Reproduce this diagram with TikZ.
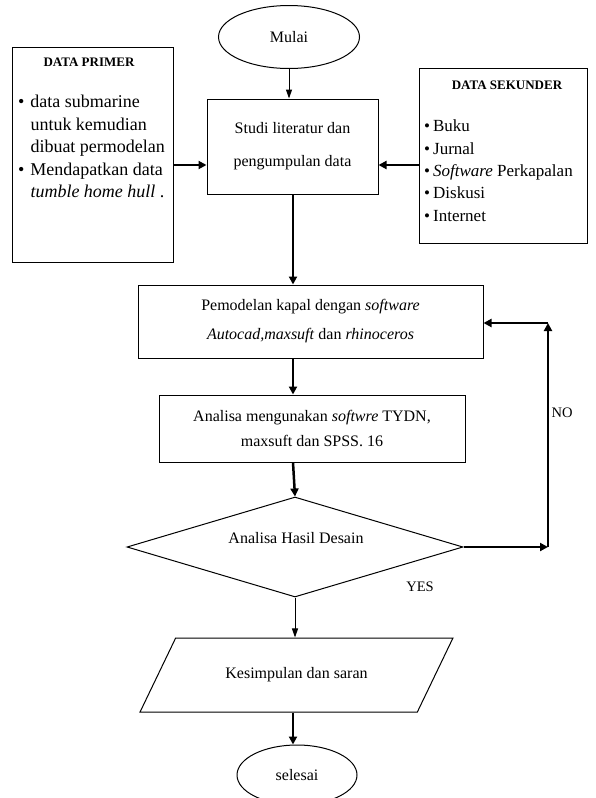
\documentclass[tikz,border=0pt]{standalone}
\usepackage{fontspec}
\setmainfont{Liberation Serif}
\usetikzlibrary{shapes.geometric,arrows.meta}

\begin{document}
\begin{tikzpicture}[x=1pt,y=-1pt,
  box/.style={draw, line width=1pt, align=center, font=\fontsize{16}{19}\selectfont},
  term/.style={draw, ellipse, line width=1pt, font=\fontsize{16}{19}\selectfont},
  flow/.style={draw, line width=2.5pt, -{Triangle[length=8pt,width=8pt]}},
  thinflow/.style={draw, line width=1pt, -{Triangle[length=9pt,width=6pt]}},
  title/.style={font=\bfseries\fontsize{13}{15}\selectfont},
  list/.style={anchor=north west, inner sep=0pt, font=\fontsize{17}{22.3}\selectfont},
  lbl/.style={font=\fontsize{14.5}{16}\selectfont}]
\useasboundingbox (0,0) rectangle (595,798);

\coordinate (axis) at (293,0);
\coordinate (feed) at (0,165);

\node[term, minimum width=141pt, minimum height=63pt] (mulai) at (289,37) {Mulai};
\node[box, minimum width=171pt, minimum height=95pt] (studi) at (292.5,146.5) {Studi literatur dan\\[14pt]pengumpulan data};

% sumber data
\node[box, minimum width=161pt, minimum height=215pt] (primer) at (92.5,154.5) {};
\node[title] (primertitle) at (89,62) {DATA PRIMER};
\node[list, font=\fontsize{18}{22.5}\selectfont] (primerlist) at (18,92) {\begin{tabular}{@{}l@{\hspace{6pt}}l@{}}
\textbullet & data submarine\\
 & untuk kemudian\\
 & dibuat permodelan\\
\textbullet & Mendapatkan data\\
 & \textit{tumble home hull} .
\end{tabular}};

\node[box, minimum width=168pt, minimum height=175pt] (sekunder) at (503,155.5) {};
\node[title] (sekundertitle) at (507,85) {DATA SEKUNDER};
\node[list] (sekunderlist) at (424,116) {\begin{tabular}{@{}l@{\hspace{3pt}}l@{}}
\textbullet & Buku\\
\textbullet & Jurnal\\
\textbullet & \textit{Software} Perkapalan\\
\textbullet & Diskusi\\
\textbullet & Internet
\end{tabular}};

\node[box, minimum width=345pt, minimum height=73pt] (model) at (310.5,321.5) {Pemodelan kapal dengan \textit{software}\\[10pt]\textit{Autocad,maxsuft} dan \textit{rhinoceros}};
\node[box, minimum width=306pt, minimum height=67pt] (analisa) at (312,428.5) {Analisa mengunakan \textit{softwre} TYDN,\\[6pt]maxsuft dan SPSS. 16};

\node[draw, diamond, line width=1pt, inner sep=0pt, minimum width=336pt, minimum height=100pt] (cek) at (295,547) {};
\node[box, draw=none] (cektext) at (296,538) {Analisa Hasil Desain};

\node[box, trapezium, trapezium left angle=44, trapezium right angle=136, trapezium stretches=true, minimum width=313pt, minimum height=74pt] (kes) at (296.5,675) {Kesimpulan dan saran};
\node[term, minimum width=120pt, minimum height=60pt] (selesai) at (297,775) {selesai};

\coordinate (turn1) at (548,547);
\coordinate (turn2) at (548,323);

\path[thinflow] (mulai.south) -- (mulai.south |- studi.north);
\path[flow] (primer.east |- feed) -- (studi.west |- feed);
\path[flow] (sekunder.west |- feed) -- (studi.east |- feed);
\path[flow] (axis |- studi.south) -- (axis |- model.north);
\path[flow] (axis |- model.south) -- (axis |- analisa.north);
\path[flow] (axis |- analisa.south) -- (cek.north);
\path[thinflow] (cek.south) -- (cek.south |- kes.north);
\path[flow] (axis |- kes.south) -- (axis |- selesai.north);

\path[flow] (cek.east) -- (turn1);
\path[flow] (turn1) -- (turn2);
\path[flow] (turn2) -- (model.east |- turn2);

\node[lbl] (no) at (562,413) {NO};
\node[lbl] (yes) at (420,587) {YES};
\end{tikzpicture}
\end{document}
